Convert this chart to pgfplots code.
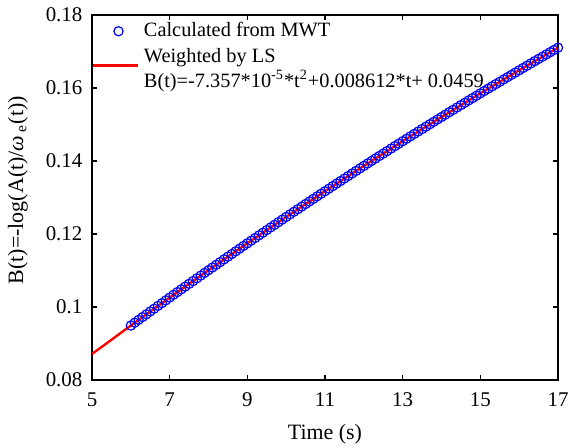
\documentclass[border=0pt]{standalone}
\usepackage{fontspec}
\setmainfont{Liberation Serif}
\usepackage{pgfplots}
\pgfplotsset{compat=1.18}
\begin{document}
\begin{tikzpicture}
\begin{axis}[
  name=ax,
  scale only axis, width=233bp, height=182.5bp,
  xmin=5, xmax=17, ymin=0.08, ymax=0.18,
  xtick={5,7,9,11,13,15,17},
  xticklabels={5,7,9,11,13,15,17},
  ytick={0.08,0.1,0.12,0.14,0.16,0.18},
  yticklabels={0.08,0.1,0.12,0.14,0.16,0.18},
  scaled y ticks=false,
  tick align=inside,
  major tick length=2.5bp,
  axis line style={line width=1bp},
  every tick/.style={black, line width=0.8bp},
  ticklabel style={font=\fontsize{10.5}{12}\selectfont},
  xticklabel style={anchor=base, yshift=-13bp, inner sep=0pt},
  yticklabel style={anchor=east, inner sep=0pt, xshift=-4.6bp},
  xlabel={Time (s)},
  ylabel={B(t)=-log(A(t)/\textit{ω}\,\textsubscript{e}(t))},
  label style={font=\fontsize{11}{13}\selectfont},
  xlabel style={at={(axis description cs:0.5,-0.162)}, anchor=base},
  ylabel style={at={(axis description cs:-0.148,0.52)}, anchor=base},
  legend style={at={(axis description cs:0,1)}, anchor=north west, yshift=-2.8bp,
    draw=none, fill=none, inner sep=0pt, outer sep=0pt, row sep=1bp,
    font=\fontsize{10.2}{12.2}\selectfont, nodes={inner xsep=2bp, inner ysep=1bp}},
  legend cell align=left,
]
\addplot[only marks, mark=o, mark size=2.3bp, blue, line width=0.6bp,
  legend image code/.code={\path[draw=none] (0bp,0bp) -- (22.5bp,0bp); \draw plot[only marks] coordinates {(12.5bp,0bp)};}]
  coordinates {
(6.0,0.09492)(6.1,0.09570)(6.2,0.09647)(6.3,0.09724)(6.4,0.09800)(6.5,0.09877)(6.6,0.09953)(6.7,0.10030)(6.8,0.10106)(6.9,0.10182)
(7.0,0.10258)(7.1,0.10334)(7.2,0.10409)(7.3,0.10485)(7.4,0.10560)(7.5,0.10635)(7.6,0.10710)(7.7,0.10785)(7.8,0.10860)(7.9,0.10934)
(8.0,0.11009)(8.1,0.11083)(8.2,0.11157)(8.3,0.11231)(8.4,0.11305)(8.5,0.11379)(8.6,0.11452)(8.7,0.11526)(8.8,0.11599)(8.9,0.11672)
(9.0,0.11745)(9.1,0.11818)(9.2,0.11890)(9.3,0.11963)(9.4,0.12035)(9.5,0.12107)(9.6,0.12180)(9.7,0.12251)(9.8,0.12323)(9.9,0.12395)
(10.0,0.12466)(10.1,0.12538)(10.2,0.12609)(10.3,0.12680)(10.4,0.12751)(10.5,0.12821)(10.6,0.12892)(10.7,0.12963)(10.8,0.13033)(10.9,0.13103)
(11.0,0.13173)(11.1,0.13243)(11.2,0.13313)(11.3,0.13382)(11.4,0.13452)(11.5,0.13521)(11.6,0.13590)(11.7,0.13659)(11.8,0.13728)(11.9,0.13796)
(12.0,0.13865)(12.1,0.13933)(12.2,0.14002)(12.3,0.14070)(12.4,0.14138)(12.5,0.14205)(12.6,0.14273)(12.7,0.14341)(12.8,0.14408)(12.9,0.14475)
(13.0,0.14542)(13.1,0.14609)(13.2,0.14676)(13.3,0.14743)(13.4,0.14809)(13.5,0.14875)(13.6,0.14942)(13.7,0.15008)(13.8,0.15074)(13.9,0.15139)
(14.0,0.15205)(14.1,0.15270)(14.2,0.15336)(14.3,0.15401)(14.4,0.15466)(14.5,0.15531)(14.6,0.15595)(14.7,0.15660)(14.8,0.15724)(14.9,0.15789)
(15.0,0.15853)(15.1,0.15917)(15.2,0.15981)(15.3,0.16044)(15.4,0.16108)(15.5,0.16171)(15.6,0.16234)(15.7,0.16297)(15.8,0.16360)(15.9,0.16423)
(16.0,0.16486)(16.1,0.16548)(16.2,0.16611)(16.3,0.16673)(16.4,0.16735)(16.5,0.16797)(16.6,0.16859)(16.7,0.16920)(16.8,0.16982)(16.9,0.17043)
(17.0,0.17104)
};
\addlegendentry{Calculated from MWT}
\addplot[red, line width=1.2bp, no marks,
  legend image code/.code={\draw[line width=1.5bp] (0bp,-1.5bp) -- (22.5bp,-1.5bp);}]
  coordinates {
(5,0.08712)(6,0.09492)(7,0.10258)(8,0.11009)(9,0.11745)(10,0.12466)(11,0.13173)
(12,0.13865)(13,0.14542)(14,0.15205)(15,0.15853)(16,0.16486)(17,0.17104)
};
\addlegendentry{\begin{tabular}[c]{@{}l@{}}Weighted by LS\\B(t)=-7.357*10\textsuperscript{-5}*t\textsuperscript{2}+0.008612*t+ 0.0459\end{tabular}}
\end{axis}
\pgfresetboundingbox
\path[use as bounding box] ([xshift=-46bp,yshift=-34bp]ax.south west) rectangle ([xshift=6bp,yshift=7.5bp]ax.north east);
\end{tikzpicture}
\end{document}
